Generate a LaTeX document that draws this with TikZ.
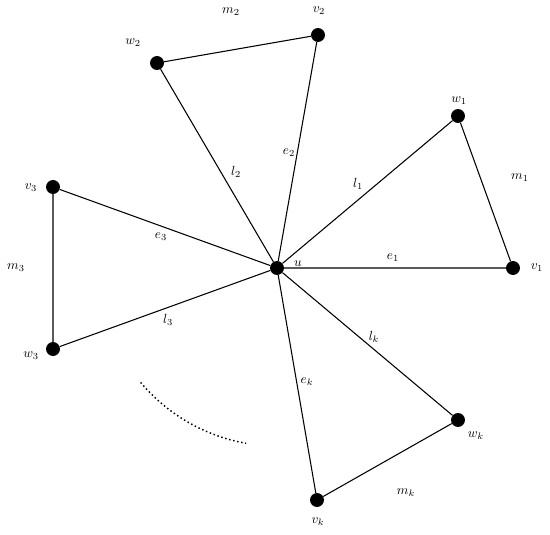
\documentclass[tikz,border=0pt]{standalone}
\usetikzlibrary{positioning}

\begin{document}
\begin{tikzpicture}[
  x=0.0265cm,
  y=-0.0265cm,
  vertex/.style={circle, fill=black, inner sep=0pt, minimum size=10.5pt},
  edge/.style={line width=0.8pt},
  lbl/.style={font=\normalsize, inner sep=1pt},
]
\useasboundingbox (0,0) rectangle (550,534);

% centre and the k triangles around it
\node[vertex] (u) at (277,268) {};
\node[vertex] (v1) at (513,268) {};
\node[vertex] (w1) at (458,116) {};
\node[vertex] (v2) at (318,35) {};
\node[vertex] (w2) at (157,63) {};
\node[vertex] (v3) at (53,187) {};
\node[vertex] (w3) at (53,349) {};
\node[vertex] (vk) at (317,500) {};
\node[vertex] (wk) at (458,420) {};

\draw[edge] (u) -- (v1) -- (w1) -- (u);
\draw[edge] (u) -- (v2) -- (w2) -- (u);
\draw[edge] (u) -- (v3) -- (w3) -- (u);
\draw[edge] (u) -- (vk) -- (wk) -- (u);

% the triangles left out
\draw[dotted, line width=1.1pt] (u.center) ++(140:178) arc[start angle=140, end angle=100, radius=178];

% vertex labels
\node[lbl] (lu) at (298,264) {$u$};
\node[lbl] (lv1) at (537,268) {$v_1$};
\node[lbl] (lw1) at (459,101) {$w_1$};
\node[lbl] (lv2) at (319,11) {$v_2$};
\node[lbl] (lw2) at (133,43) {$w_2$};
\node[lbl] (lv3) at (31,188) {$v_3$};
\node[lbl] (lw3) at (31,356) {$w_3$};
\node[lbl] (lvk) at (318,522) {$v_k$};
\node[lbl] (lwk) at (476,436) {$w_k$};

% edge labels
\node[lbl] (le1) at (393,258) {$e_1$};
\node[lbl] (ll1) at (358,184) {$l_1$};
\node[lbl] (lm1) at (520,178) {$m_1$};
\node[lbl] (le2) at (289,153) {$e_2$};
\node[lbl] (ll2) at (236,172) {$l_2$};
\node[lbl] (lm2) at (231,12) {$m_2$};
\node[lbl] (le3) at (161,237) {$e_3$};
\node[lbl] (ll3) at (168,320) {$l_3$};
\node[lbl] (lm3) at (16,268) {$m_3$};
\node[lbl] (lek) at (307,382) {$e_k$};
\node[lbl] (llk) at (374,337) {$l_k$};
\node[lbl] (lmk) at (406,493) {$m_k$};

\end{tikzpicture}
\end{document}
